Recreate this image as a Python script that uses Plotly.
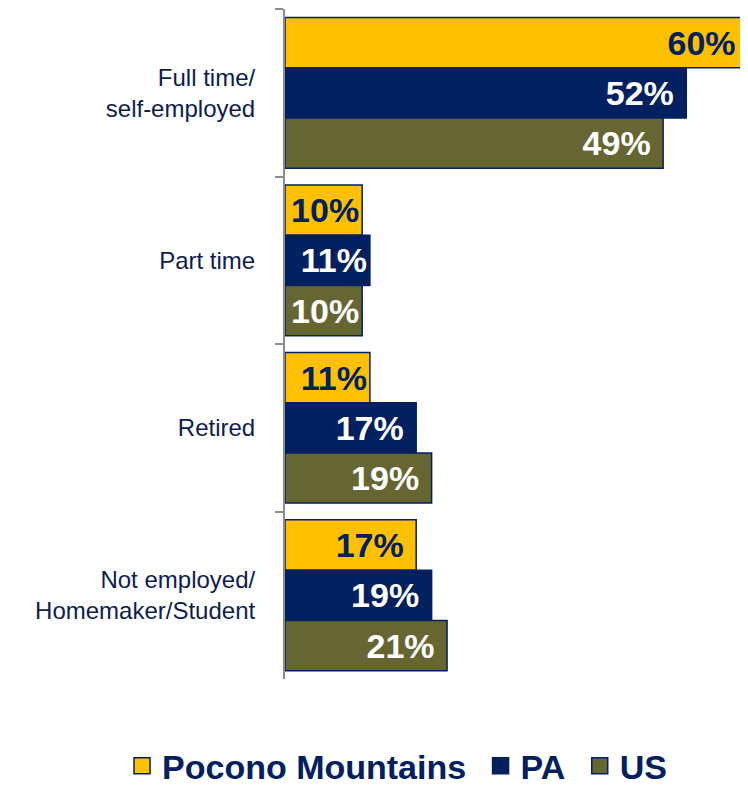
import plotly.graph_objects as go

categories = ["Full time/<br>self-employed", "Part time", "Retired", "Not employed/<br>Homemaker/Student"]
series_names = ["Pocono Mountains", "PA", "US"]
pocono = [60, 10, 11, 17]
pa = [52, 11, 17, 19]
us = [49, 10, 19, 21]

colors = ["#FFC000", "#002060", "#666633"]
text_colors = ["#002060", "#FFFFFF", "#FFFFFF"]
legend_labels = ["Pocono Mountains\u00a0", "PA\u00a0", "US"]
NAVY = "#002060"


def label(v):
    # trailing no-break space keeps labels off the bar end, except on very short bars
    return f"{v}%\u00a0" if v > 11 else f"{v}%"


fig = go.Figure()
for name, lab, vals, col, tcol in zip(series_names, legend_labels, [pocono, pa, us], colors, text_colors):
    fig.add_trace(go.Bar(
        y=categories, x=vals, orientation="h", name=name,
        marker=dict(color=col, line=dict(color=NAVY, width=1.5)),
        text=[label(v) for v in vals],
        textposition="inside", insidetextanchor="end",
        constraintext="none", textangle=0,
        textfont=dict(family="Liberation Sans, Arial", size=34, color=tcol, weight="bold"),
        cliponaxis=False,
        showlegend=False,
    ))
    fig.add_trace(go.Scatter(
        x=[None], y=[None], mode="markers", name=lab,
        marker=dict(symbol="square", size=18, color=col, line=dict(color=NAVY, width=1.5)),
        showlegend=True,
    ))

# page body has an 8px margin; figure is sized so the plot sits where the reference has it
fig.update_layout(
    width=740, height=779,
    margin=dict(l=277, r=0, t=1, b=108, autoexpand=False),
    paper_bgcolor="white", plot_bgcolor="white",
    barmode="group", bargap=0.1, bargroupgap=0,
    font=dict(family="Liberation Sans, Arial", color=NAVY),
    xaxis=dict(range=[0, 60], visible=False, fixedrange=True),
    yaxis=dict(
        type="category", range=[3.5, -0.5],
        tickson="boundaries", ticks="outside", ticklen=8, tickwidth=2, tickcolor="#8C8C8C",
        showline=True, linecolor="#8C8C8C", linewidth=2,
        showgrid=False, ticklabelstandoff=23,
        tickfont=dict(size=24, color="#0D1D50"),
    ),
    legend=dict(
        orientation="h", xref="paper", yref="paper",
        x=-0.352, xanchor="left", y=-0.13, yanchor="middle",
        font=dict(size=34, color=NAVY, weight="bold"),
        itemsizing="trace", traceorder="normal",
    ),
)

fig.write_html("out.html")
